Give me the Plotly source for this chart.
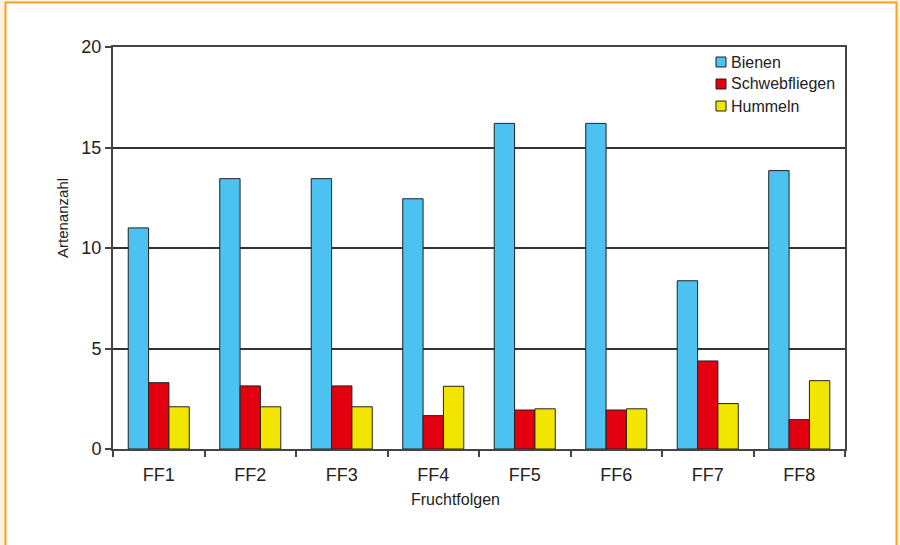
import plotly.graph_objects as go

categories = ["FF1", "FF2", "FF3", "FF4", "FF5", "FF6", "FF7", "FF8"]
bienen = [11.0, 13.45, 13.45, 12.45, 16.2, 16.2, 8.37, 13.85]
schwebfliegen = [3.3, 3.14, 3.14, 1.66, 1.94, 1.94, 4.38, 1.46]
hummeln = [2.1, 2.1, 2.1, 3.12, 2.0, 2.0, 2.26, 3.4]
y_ticks = [0, 5, 10, 15, 20]

series = [
    ("Bienen", bienen, "#4BC2F0"),
    ("Schwebfliegen", schwebfliegen, "#E3000F"),
    ("Hummeln", hummeln, "#F2E500"),
]

FONT = "Liberation Sans, Arial, sans-serif"
TXT = "#222222"
L, R, T, B = 113, 55, 47, 96
W, H = 900, 545
PW, PH = W - L - R, H - T - B

def px(x):
    return (x - L) / PW

def py(y):
    return (H - B - y) / PH

fig = go.Figure()
for name, vals, col in series:
    fig.add_trace(go.Bar(
        x=categories, y=vals, name=name,
        marker=dict(color=col, line=dict(color="#222222", width=1)),
    ))

shapes = [
    dict(type="rect", xref="paper", yref="paper",
         x0=px(5.5), x1=px(896.5), y0=py(560), y1=py(2.5),
         fillcolor="white", line=dict(color="#F7A21B", width=2), layer="below"),
]
annotations = [
    dict(text="Artenanzahl", xref="paper", yref="paper", x=px(62), y=py(218),
         showarrow=False, textangle=-90, font=dict(size=15, family=FONT, color=TXT),
         xanchor="center", yanchor="middle"),
    dict(text="Fruchtfolgen", xref="paper", yref="paper", x=px(455), y=py(499),
         showarrow=False, font=dict(size=16, family=FONT, color=TXT),
         xanchor="center", yanchor="middle"),
]
# manual legend
for i, (name, vals, col) in enumerate(series):
    cy = 62 + 22 * i
    shapes.append(dict(type="rect", xref="paper", yref="paper",
                       x0=px(716), x1=px(726), y0=py(cy + 5), y1=py(cy - 5),
                       fillcolor=col, line=dict(color="#222222", width=1), layer="above"))
    annotations.append(dict(text=name, xref="paper", yref="paper", x=px(729), y=py(cy),
                            showarrow=False, xanchor="left", yanchor="middle",
                            font=dict(size=16, family=FONT, color=TXT)))

fig.update_layout(
    width=W, height=H,
    margin=dict(l=L, r=R, t=T, b=B),
    paper_bgcolor="#FDF3E4",
    plot_bgcolor="white",
    barmode="group",
    bargap=0.333,
    bargroupgap=0,
    font=dict(family=FONT, color=TXT),
    showlegend=False,
    xaxis=dict(
        showline=True, linecolor="#444444", linewidth=2, mirror=True,
        ticks="outside", ticklen=6, tickcolor="#444444", tickwidth=1.5,
        tickson="boundaries", ticklabelstandoff=8,
        tickfont=dict(size=18, family=FONT, color=TXT),
        showgrid=False,
    ),
    yaxis=dict(
        range=[0, 20], tickvals=y_ticks,
        showline=True, linecolor="#444444", linewidth=2, mirror=True,
        ticks="outside", ticklen=6, tickcolor="#444444", tickwidth=1.5,
        tickfont=dict(size=18, family=FONT, color=TXT),
        showgrid=True, gridcolor="#333333", gridwidth=1.5,
        zeroline=False,
    ),
    shapes=shapes,
    annotations=annotations,
)

fig.write_html("out.html", config={"displayModeBar": False},
               post_script="document.body.style.margin='0';")
